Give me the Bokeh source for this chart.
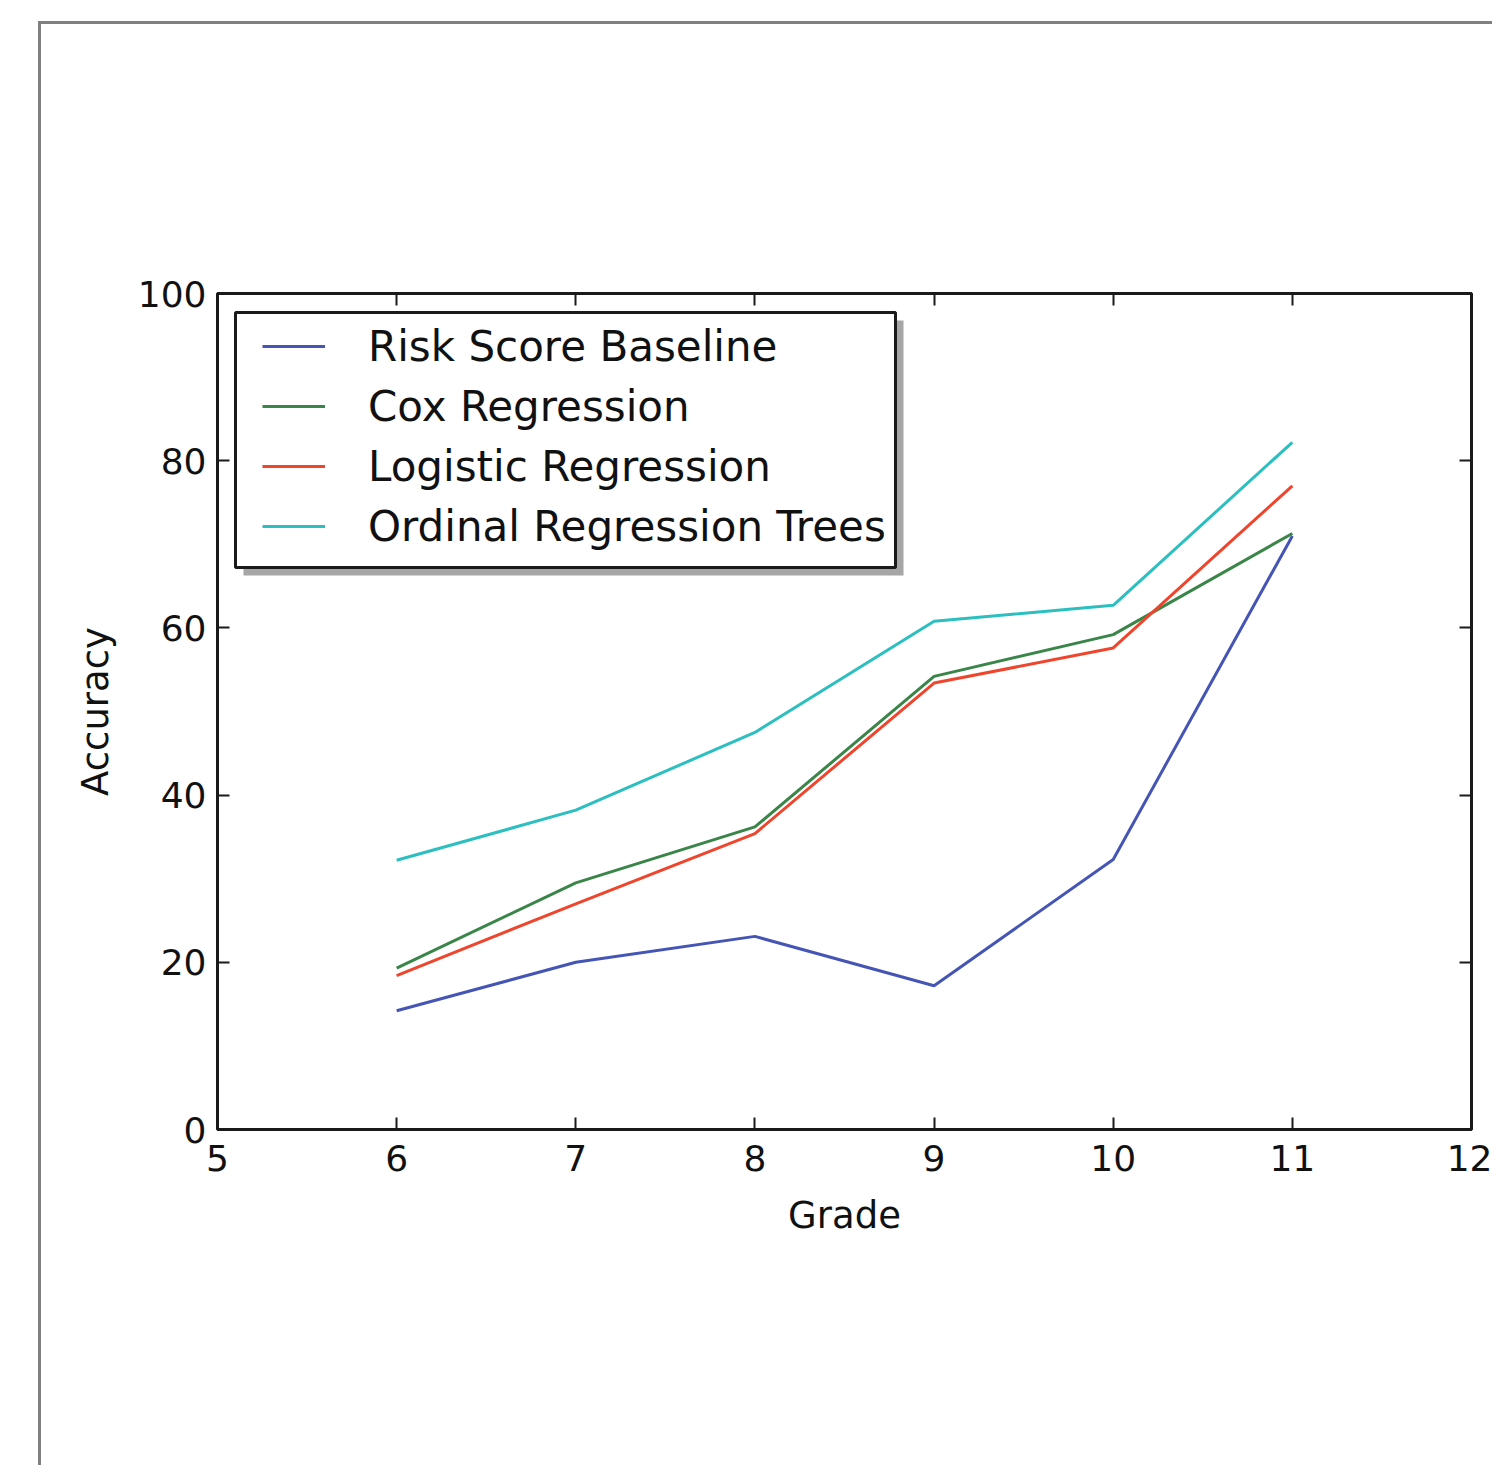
from bokeh.plotting import figure
from bokeh.models import (Legend, LegendItem, LinearAxis, FixedTicker,
                          BoxAnnotation, Range1d)
from bokeh.embed import file_html
from bokeh.resources import INLINE

# ---- data ----
grades = [6, 7, 8, 9, 10, 11]
risk_score_baseline = [14.2, 20.0, 23.1, 17.2, 32.3, 71.0]
cox_regression = [19.3, 29.5, 36.2, 54.2, 59.2, 71.3]
logistic_regression = [18.4, 27.0, 35.4, 53.4, 57.6, 77.0]
ordinal_regression_trees = [32.2, 38.2, 47.5, 60.8, 62.7, 82.2]

series_names = ["Risk Score Baseline", "Cox Regression",
                "Logistic Regression", "Ordinal Regression Trees"]
series_colors = ["#4555B5", "#3A8548", "#F0452D", "#2BBFC0"]

x_ticks = [5, 6, 7, 8, 9, 10, 11, 12]
y_ticks = [0, 20, 40, 60, 80, 100]

FONT = "DejaVu Sans"
DARK = "#1a1a1a"

# canvas origin inside the page (after outer gray frame)
OX, OY = 41, 24
# box annotation coordinate correction
BX, BY = 44, 27

p = figure(
    width=1492 - OX, height=1465 - OY,
    frame_width=1254, frame_height=836,
    min_border_left=217 - OX, min_border_top=293 - OY,
    min_border_right=21, min_border_bottom=336,
    x_range=Range1d(5, 12), y_range=Range1d(0, 100),
    output_backend="svg", toolbar_location=None,
    background_fill_color="white", border_fill_color="white",
    styles={"margin-left": "38px", "margin-top": "21px",
            "border-left": "3px solid #808080",
            "border-top": "3px solid #808080"},
)
p.xgrid.visible = False
p.ygrid.visible = False
p.outline_line_color = DARK
p.outline_line_width = 3
p.outline_line_alpha = 1.0


def style_axis(ax, ticks, show_labels=True):
    ax.ticker = FixedTicker(ticks=ticks)
    ax.axis_line_color = None
    ax.major_tick_in = 12
    ax.major_tick_out = 0
    ax.major_tick_line_color = DARK
    ax.major_tick_line_width = 2
    ax.minor_tick_line_color = None
    ax.major_label_text_font = FONT
    ax.major_label_text_color = "#111111"
    ax.major_label_text_font_size = "36px"
    if not show_labels:
        ax.major_label_overrides = {t: "" for t in ticks}
        ax.major_label_standoff = 0


xa = p.xaxis[0]
ya = p.yaxis[0]
style_axis(xa, x_ticks)
style_axis(ya, y_ticks)
xa.major_label_standoff = 15
ya.major_label_standoff = 11
xa.axis_label = "Grade"
ya.axis_label = "Accuracy"
for ax in (xa, ya):
    ax.axis_label_text_font = FONT
    ax.axis_label_text_font_size = "37px"
    ax.axis_label_text_font_style = "normal"
    ax.axis_label_text_color = "#111111"
xa.axis_label_standoff = 20
ya.axis_label_standoff = 18

top_ax = LinearAxis()
right_ax = LinearAxis()
style_axis(top_ax, x_ticks, show_labels=False)
style_axis(right_ax, y_ticks, show_labels=False)
p.add_layout(top_ax, "above")
p.add_layout(right_ax, "right")

all_series = [risk_score_baseline, cox_regression,
              logistic_regression, ordinal_regression_trees]
renderers = []
for vals, color in zip(all_series, series_colors):
    r = p.line(grades, vals, line_color=color, line_width=3)
    renderers.append(r)

# legend shadow and box (canvas pixels)
shadow = BoxAnnotation(left=243 - BX, right=903 - BX, top=320 - BY, bottom=575 - BY,
                       left_units="canvas", top_units="canvas",
                       right_units="canvas", bottom_units="canvas",
                       fill_color="#a6a6a6", fill_alpha=1, line_alpha=0)
box = BoxAnnotation(left=235 - BX, right=895 - BX, top=312 - BY, bottom=567 - BY,
                    left_units="canvas", top_units="canvas",
                    right_units="canvas", bottom_units="canvas",
                    fill_color="white", fill_alpha=1,
                    line_color=DARK, line_width=3, line_alpha=1)
p.add_layout(shadow)
p.add_layout(box)

legend = Legend(
    items=[LegendItem(label=n, renderers=[r]) for n, r in zip(series_names, renderers)],
    location=(39, 567),
    margin=0, padding=6, spacing=0,
    label_height=60, glyph_height=60, glyph_width=63,
    label_standoff=43,
    label_text_font=FONT, label_text_font_size="42px",
    label_text_color="#111111",
    background_fill_alpha=0, border_line_alpha=0,
)
p.add_layout(legend)

open("out.html", "w").write(file_html(p, INLINE))
